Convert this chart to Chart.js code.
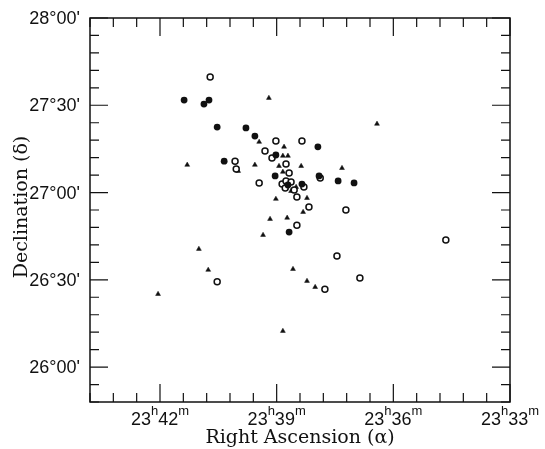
<!DOCTYPE html>
<html>
<head>
<meta charset="utf-8">
<script src="https://cdn.jsdelivr.net/npm/chart.js@4"></script>
<style>
  html, body { margin: 0; padding: 0; background: #fff; }
  #wrap { width: 545px; height: 449px; }
</style>
</head>
<body>
<div id="wrap"><canvas id="chart" width="545" height="449"></canvas></div>
<script>
/* RA in minutes past 23h, Dec in arcmin past 26°00' */
const filledRA  = [41.38, 40.74, 40.87, 40.53, 39.79, 39.56, 37.94, 39.02, 40.35, 39.04, 37.91, 37.42, 37.01, 38.71, 38.35, 38.68];
const filledDec = [91.8, 91.8, 90.4, 82.5, 82.2, 79.4, 75.7, 72.9, 70.8, 65.7, 65.7, 64.0, 63.3, 62.6, 62.9, 46.4];

const openRA  = [40.71, 39.02, 38.35, 39.30, 39.12, 40.07, 38.76, 40.04, 38.68, 39.45, 38.86, 38.76, 38.63, 38.78, 38.55, 38.30, 37.88, 38.48, 38.17, 37.22, 38.48, 34.65, 37.45, 36.86, 37.76, 40.53];
const openDec = [99.7, 77.7, 77.7, 74.3, 71.9, 70.8, 69.8, 68.1, 66.7, 63.3, 62.9, 64.0, 63.6, 61.6, 60.9, 61.9, 65.0, 58.5, 55.0, 54.0, 48.8, 43.7, 38.2, 30.6, 26.8, 29.3];

const triRA  = [39.20, 39.45, 38.81, 38.84, 38.71, 41.30, 39.56, 38.94, 38.37, 39.99, 38.84, 37.32, 36.42, 38.50, 38.63, 39.02, 38.22, 38.32, 39.17, 38.73, 39.35, 41.00, 40.76, 38.58, 42.05, 38.22, 38.01, 38.84];
const triDec = [92.5, 77.4, 75.7, 72.6, 72.6, 69.5, 69.5, 69.1, 69.1, 67.4, 67.1, 68.4, 83.6, 61.9, 60.5, 57.8, 58.1, 53.3, 50.9, 51.3, 45.4, 40.6, 33.4, 33.7, 25.1, 29.6, 27.5, 12.4];

const raMin = 33, raMax = 43.8;      // 23h33m .. 23h43m48s
const decMin = -12, decMax = 120;    // 25°48' .. 28°00'
const raTicks = [42, 39, 36, 33];
const raTickLabels = [['23', 'h', '42', 'm'], ['23', 'h', '39', 'm'], ['23', 'h', '36', 'm'], ['23', 'h', '33', 'm']];
const decTicks = [0, 30, 60, 90, 120];
const decTickLabels = ["26°00'", "26°30'", "27°00'", "27°30'", "28°00'"];

function toPoints(xs, ys) {
  return xs.map((v, i) => ({ x: v, y: ys[i] }));
}

/* ---------- frame, inward ticks and labels ---------- */
const framePlugin = {
  id: 'frame',
  afterDraw(chart) {
    const { ctx, chartArea: a, scales: { x, y } } = chart;
    ctx.save();
    ctx.strokeStyle = '#111';
    ctx.lineWidth = 1.5;
    ctx.strokeRect(a.left, a.top, a.right - a.left, a.bottom - a.top);

    ctx.lineWidth = 1.2;
    ctx.beginPath();
    for (let i = 0; i <= 18; i++) {
      const px = x.getPixelForValue(raMin + i * 0.6);
      const len = i % 5 === 0 ? 18 : 9;
      ctx.moveTo(px, a.bottom); ctx.lineTo(px, a.bottom - len);
      ctx.moveTo(px, a.top); ctx.lineTo(px, a.top + len);
    }
    for (let i = 0; i <= 22; i++) {
      const py = y.getPixelForValue(decMin + i * 6);
      const len = (i - 2) % 5 === 0 ? 18 : 9;
      ctx.moveTo(a.left, py); ctx.lineTo(a.left + len, py);
      ctx.moveTo(a.right, py); ctx.lineTo(a.right - len, py);
    }
    ctx.stroke();

    ctx.fillStyle = '#111';
    // Dec labels
    ctx.font = '18px "Liberation Sans", Arial, sans-serif';
    ctx.textAlign = 'right';
    ctx.textBaseline = 'middle';
    decTicks.forEach((v, i) => ctx.fillText(decTickLabels[i], a.left - 10, y.getPixelForValue(v) + 1));

    // RA labels with superscript h / m
    const big = '18px "Liberation Sans", Arial, sans-serif';
    const small = '13px "Liberation Sans", Arial, sans-serif';
    ctx.textAlign = 'left';
    ctx.textBaseline = 'alphabetic';
    raTicks.forEach((v, i) => {
      const parts = raTickLabels[i];
      const widths = parts.map((p, k) => { ctx.font = k % 2 ? small : big; return ctx.measureText(p).width; });
      const total = widths.reduce((s, w) => s + w, 0);
      let cx = x.getPixelForValue(v) - total / 2;
      parts.forEach((p, k) => {
        ctx.font = k % 2 ? small : big;
        ctx.fillText(p, cx, k % 2 ? 415 : 425);
        cx += widths[k];
      });
    });

    // axis titles
    ctx.font = '19px "DejaVu Serif", serif';
    ctx.textAlign = 'center';
    ctx.fillText('Right Ascension (\u03b1)', (a.left + a.right) / 2, 443);
    ctx.save();
    ctx.translate(27, 207);
    ctx.rotate(-Math.PI / 2);
    ctx.fillText('Declination (\u03b4)', 0, 0);
    ctx.restore();
    ctx.restore();
  }
};

new Chart(document.getElementById('chart'), {
  type: 'scatter',
  data: {
    datasets: [
      { label: 'filled', data: toPoints(filledRA, filledDec), pointStyle: 'circle', pointRadius: 3.4, backgroundColor: '#111', borderColor: '#111', borderWidth: 0 },
      { label: 'open', data: toPoints(openRA, openDec), pointStyle: 'circle', pointRadius: 3, backgroundColor: '#fff', borderColor: '#111', borderWidth: 1.5 },
      { label: 'triangle', data: toPoints(triRA, triDec), pointStyle: 'triangle', pointRadius: 2.8, backgroundColor: '#111', borderColor: '#111', borderWidth: 0.5 }
    ]
  },
  options: {
    responsive: false,
    animation: false,
    layout: { padding: { left: 90, top: 18, right: 35, bottom: 47 } },
    plugins: { legend: { display: false }, tooltip: { enabled: false } },
    scales: {
      x: { type: 'linear', min: raMin, max: raMax, reverse: true, display: false },
      y: { type: 'linear', min: decMin, max: decMax, display: false }
    }
  },
  plugins: [framePlugin]
});
</script>
</body>
</html>
